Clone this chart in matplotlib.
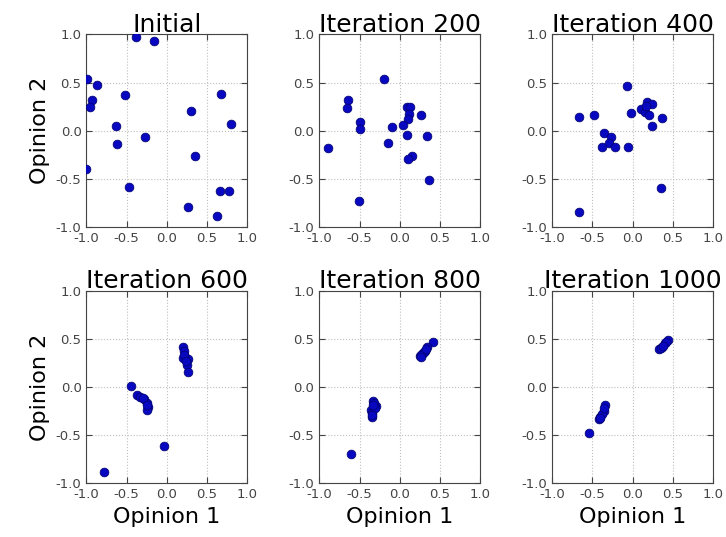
import numpy as np
import matplotlib
matplotlib.use("Agg")
import matplotlib.pyplot as plt

# opinion positions per snapshot
titles = ["Initial", "Iteration 200", "Iteration 400",
          "Iteration 600", "Iteration 800", "Iteration 1000"]

init_x = [-0.38, -0.16, -0.99, -0.87, -0.52, -0.93, -0.95, -0.63, -0.62, -0.27,
          -1.00, -0.47, 0.68, 0.30, 0.80, 0.35, 0.66, 0.78, 0.26, 0.62]
init_y = [0.97, 0.93, 0.54, 0.47, 0.37, 0.32, 0.25, 0.05, -0.14, -0.07,
          -0.40, -0.58, 0.38, 0.20, 0.07, -0.26, -0.63, -0.63, -0.79, -0.89]

it200_x = [-0.19, -0.64, -0.66, -0.49, -0.49, -0.89, -0.09, -0.14, 0.09, 0.13,
           0.12, 0.10, 0.04, 0.26, 0.09, 0.34, 0.15, 0.11, 0.37, -0.51]
it200_y = [0.54, 0.32, 0.24, 0.09, 0.02, -0.18, 0.04, -0.13, 0.25, 0.25,
           0.17, 0.12, 0.06, 0.16, -0.04, -0.06, -0.26, -0.29, -0.51, -0.73]

it400_x = [-0.07, -0.67, -0.48, -0.02, -0.36, -0.27, -0.29, -0.38, -0.22, -0.06,
           0.18, 0.24, 0.11, 0.15, 0.21, 0.24, 0.36, 0.35, -0.67, 0.17]
it400_y = [0.46, 0.14, 0.16, 0.18, -0.02, -0.07, -0.13, -0.17, -0.17, -0.17,
           0.30, 0.28, 0.23, 0.19, 0.16, 0.05, 0.13, -0.59, -0.84, 0.26]

it600_x = [-0.45, -0.37, -0.33, -0.28, -0.25, -0.23, -0.25, -0.04, 0.20, 0.21,
           0.23, 0.20, 0.26, 0.25, 0.26, -0.78, -0.30, 0.22, 0.24, -0.24]
it600_y = [0.01, -0.08, -0.10, -0.12, -0.17, -0.21, -0.24, -0.61, 0.42, 0.37,
           0.31, 0.30, 0.29, 0.23, 0.16, -0.88, -0.11, 0.33, 0.27, -0.19]

it800_x = [0.41, 0.34, 0.31, 0.28, 0.25, 0.29, -0.33, -0.30, -0.36, -0.35,
           -0.32, -0.60, 0.30, 0.27, -0.34, -0.31, 0.33, -0.33, 0.26, -0.34]
it800_y = [0.47, 0.41, 0.37, 0.34, 0.32, 0.35, -0.15, -0.20, -0.24, -0.31,
           -0.17, -0.70, 0.36, 0.33, -0.27, -0.22, 0.39, -0.19, 0.31, -0.29]

it1000_x = [0.44, 0.40, 0.37, 0.33, -0.34, -0.36, -0.40, -0.42, -0.54, 0.42,
            0.35, -0.38, -0.35, 0.38, -0.41]
it1000_y = [0.49, 0.46, 0.42, 0.39, -0.19, -0.25, -0.31, -0.33, -0.48, 0.47,
            0.40, -0.28, -0.22, 0.43, -0.32]

xs = [init_x, it200_x, it400_x, it600_x, it800_x, it1000_x]
ys = [init_y, it200_y, it400_y, it600_y, it800_y, it1000_y]

fig, axes = plt.subplots(2, 3, figsize=(7.26, 5.37), dpi=100)
fig.subplots_adjust(left=0.119, right=0.982, top=0.936, bottom=0.100,
                    wspace=0.45, hspace=0.33)

ticks = [-1.0, -0.5, 0.0, 0.5, 1.0]
for i, ax in enumerate(axes.flat):
    ax.scatter(xs[i], ys[i], s=40, c="#0808c0", edgecolors="#00006a",
               linewidths=0.5, zorder=3)
    ax.set_xlim(-1, 1)
    ax.set_ylim(-1, 1)
    ax.set_xticks(ticks)
    ax.set_yticks(ticks)
    ax.set_xticklabels(["%.1f" % t for t in ticks])
    ax.set_yticklabels(["%.1f" % t for t in ticks])
    ax.set_title(titles[i], fontsize=18, pad=2)
    ax.grid(True, color="0.75", linestyle=":", linewidth=0.8)
    ax.tick_params(direction="in", top=True, right=True, length=4,
                   labelsize=9.5, labelcolor="#444444", color="#444444")
    for sp in ax.spines.values():
        sp.set_color("#444444")
    if i % 3 == 0:
        ax.set_ylabel("Opinion 2", fontsize=16)
    if i >= 3:
        ax.set_xlabel("Opinion 1", fontsize=16)

fig.savefig("out.png", dpi=100)
